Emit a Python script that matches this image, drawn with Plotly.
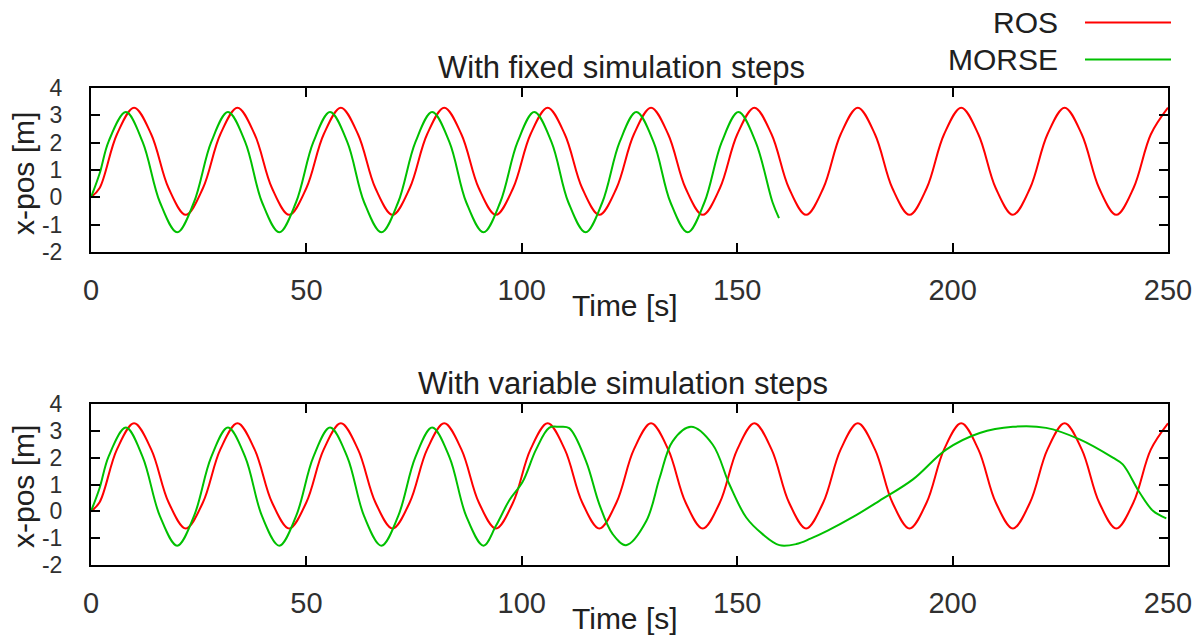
import plotly.graph_objects as go

# ---------------- data ----------------
ros_t = [0, 2, 6, 10, 14, 18, 22, 26, 30, 34, 38, 42, 46, 50, 54, 58, 62, 66,
         70, 74, 78, 82, 86, 90, 94, 98, 102, 106, 110, 114, 118, 122, 126,
         130, 134, 138, 142, 146, 150, 154, 158, 162, 166, 170, 174, 178, 182,
         186, 190, 194, 198, 202, 206, 210, 214, 218, 222, 226, 230, 234, 238,
         242, 246, 250]
ros_x = [0.0, 0.34, 2.30, 3.28, 2.30, 0.34, -0.64, 0.34, 2.30, 3.28, 2.30, 0.34,
         -0.64, 0.34, 2.30, 3.28, 2.30, 0.34, -0.64, 0.34, 2.30, 3.28, 2.30, 0.34,
         -0.64, 0.34, 2.30, 3.28, 2.30, 0.34, -0.64, 0.34, 2.30, 3.28, 2.30, 0.34,
         -0.64, 0.34, 2.30, 3.28, 2.30, 0.34, -0.64, 0.34, 2.30, 3.28, 2.30, 0.34,
         -0.64, 0.34, 2.30, 3.28, 2.30, 0.34, -0.64, 0.34, 2.30, 3.28, 2.30, 0.34,
         -0.64, 0.34, 2.30, 3.28]

morse_fixed_t = [0, 2, 4.1, 8.1, 12.0, 16.0, 20.0, 23.9, 27.9, 31.8, 35.8, 39.7,
                 43.7, 47.6, 51.6, 55.5, 59.5, 63.4, 67.4, 71.3, 75.3, 79.2, 83.2,
                 87.1, 91.1, 95.0, 99.0, 102.9, 106.9, 110.8, 114.8, 118.7, 122.7,
                 126.6, 130.6, 134.5, 138.5, 142.4, 146.4, 150.3, 154.3, 158.2, 159.7]
morse_fixed_x = [0.0, 0.87, 2.05, 3.12, 2.02, -0.18, -1.28, -0.18, 2.02, 3.12, 2.02,
                 -0.18, -1.28, -0.18, 2.02, 3.12, 2.02, -0.18, -1.28, -0.18, 2.02,
                 3.12, 2.02, -0.18, -1.28, -0.18, 2.02, 3.12, 2.02, -0.18, -1.28,
                 -0.18, 2.02, 3.12, 2.02, -0.18, -1.28, -0.18, 2.02, 3.12, 2.02,
                 -0.18, -0.76]

morse_var_t = [0, 2, 4.1, 8.1, 12.0, 16.0, 20.0, 23.9, 27.9, 31.8, 35.8, 39.7,
               43.7, 47.6, 51.6, 55.5, 59.5, 63.4, 67.4, 71.3, 75.3, 79.2, 83.2,
               87.1, 91.1, 94.0, 97.1, 100.2, 103.3, 106.4, 108.7, 111.0, 114.9,
               118.0, 121.1, 124.2, 128.9, 132.0, 135.0, 139.3, 144.3, 148.2,
               152.1, 155.9, 159.8, 163.7, 167.0, 171.0, 177.0, 183.0, 190.8,
               198.5, 206.3, 214.0, 221.7, 229.5, 237.2, 239.5, 243.4, 246.5, 249.6]
morse_var_x = [0.0, 0.87, 2.05, 3.12, 2.02, -0.18, -1.28, -0.18, 2.02, 3.12, 2.02,
               -0.18, -1.28, -0.18, 2.02, 3.12, 2.02, -0.18, -1.28, -0.18, 2.02,
               3.12, 2.02, -0.18, -1.28, -0.54, 0.41, 1.10, 2.30, 3.12, 3.15, 3.10,
               1.87, 0.26, -0.85, -1.26, -0.36, 1.25, 2.61, 3.15, 2.49, 1.00,
               -0.23, -0.85, -1.26, -1.22, -1.02, -0.72, -0.20, 0.39, 1.19,
               2.30, 2.92, 3.15, 3.11, 2.68, 2.00, 1.75, 0.70, 0.02, -0.26]

x_ticks = [0, 50, 100, 150, 200, 250]
y_ticks = [-2, -1, 0, 1, 2, 3, 4]
y_tick_text = ["-2", "-1", "0", "1", "2", "3", "4"]
titles = ["With fixed simulation steps", "With variable simulation steps"]
x_label = "Time [s]"
y_label = "x-pos [m]"
series_names = ["ROS", "MORSE"]

# ---------------- styling / layout ----------------
W, H = 1203, 637
ML, MR, MT, MB = 91, 35, 88, 72
PW, PH = W - ML - MR, H - MT - MB
FONT = "Liberation Sans"
RED = "#ff0000"
GREEN = "#00c000"


def px(x):
    return (x - ML) / PW


def py(y):
    return (H - MB - y) / PH


fig = go.Figure()
line_kw = dict(width=2, shape="spline", smoothing=1)
fig.add_trace(go.Scatter(x=ros_t, y=ros_x, mode="lines", name=series_names[0],
                         line=dict(color=RED, **line_kw), xaxis="x", yaxis="y"))
fig.add_trace(go.Scatter(x=morse_fixed_t, y=morse_fixed_x, mode="lines", name=series_names[1],
                         line=dict(color=GREEN, **line_kw), xaxis="x", yaxis="y"))
fig.add_trace(go.Scatter(x=ros_t, y=ros_x, mode="lines", name=series_names[0],
                         line=dict(color=RED, **line_kw), xaxis="x2", yaxis="y2"))
fig.add_trace(go.Scatter(x=morse_var_t, y=morse_var_x, mode="lines", name=series_names[1],
                         line=dict(color=GREEN, **line_kw), xaxis="x2", yaxis="y2"))

ax_common = dict(showline=True, linewidth=2, linecolor="black", mirror="ticks",
                 ticks="inside", ticklen=9, tickwidth=2, tickcolor="black",
                 showgrid=False, zeroline=False)
xax = dict(range=[0, 250], tickmode="array", tickvals=x_ticks,
           ticklabelstandoff=11,
           tickfont=dict(family=FONT, size=29, color="#303030"), **ax_common)
yax = dict(range=[-2, 4], tickmode="array", tickvals=y_ticks, ticktext=y_tick_text,
           ticklabelstandoff=22,
           tickfont=dict(family=FONT, size=23, color="#303030"), **ax_common)

top_dom = [py(252), 1.0]
bot_dom = [0.0, py(404)]

fig.update_layout(
    width=W, height=H,
    margin=dict(l=ML, r=MR, t=MT, b=MB),
    paper_bgcolor="white", plot_bgcolor="white",
    showlegend=False,
    font=dict(family=FONT, size=28, color="black"),
    xaxis=dict(domain=[0, 1], anchor="y", **xax),
    yaxis=dict(domain=top_dom, anchor="x", **yax),
    xaxis2=dict(domain=[0, 1], anchor="y2", **xax),
    yaxis2=dict(domain=bot_dom, anchor="x2", **yax),
)

ann = []
txt = dict(family=FONT, size=30, color="#202020")
ann.append(dict(text=titles[0], x=px(621), y=py(68), xref="paper", yref="paper",
                xanchor="center", yanchor="middle", showarrow=False,
                font=dict(family=FONT, size=31, color="#202020")))
ann.append(dict(text=titles[1], x=px(623), y=py(383), xref="paper", yref="paper",
                xanchor="center", yanchor="middle", showarrow=False,
                font=dict(family=FONT, size=31, color="#202020")))
for yc in (305, 618):
    ann.append(dict(text=x_label, x=px(625), y=py(yc), xref="paper", yref="paper",
                    xanchor="center", yanchor="middle", showarrow=False, font=txt))
for yc in (174, 487):
    ann.append(dict(text=y_label, x=px(23), y=py(yc), xref="paper", yref="paper",
                    xanchor="center", yanchor="middle", showarrow=False, font=txt,
                    textangle=-90))
# gnuplot-style key: text on the left, sample line on the right
shapes = []
for name, color, yc in ((series_names[0], RED, 22.5), (series_names[1], GREEN, 59.5)):
    ann.append(dict(text=name, x=px(1060), y=py(yc), xref="paper", yref="paper",
                    xanchor="right", yanchor="middle", showarrow=False, font=txt))
    shapes.append(dict(type="line", xref="paper", yref="paper",
                       x0=px(1085), x1=px(1171), y0=py(yc), y1=py(yc),
                       line=dict(color=color, width=2)))
fig.update_layout(annotations=ann, shapes=shapes)

fig.write_html("out.html")
